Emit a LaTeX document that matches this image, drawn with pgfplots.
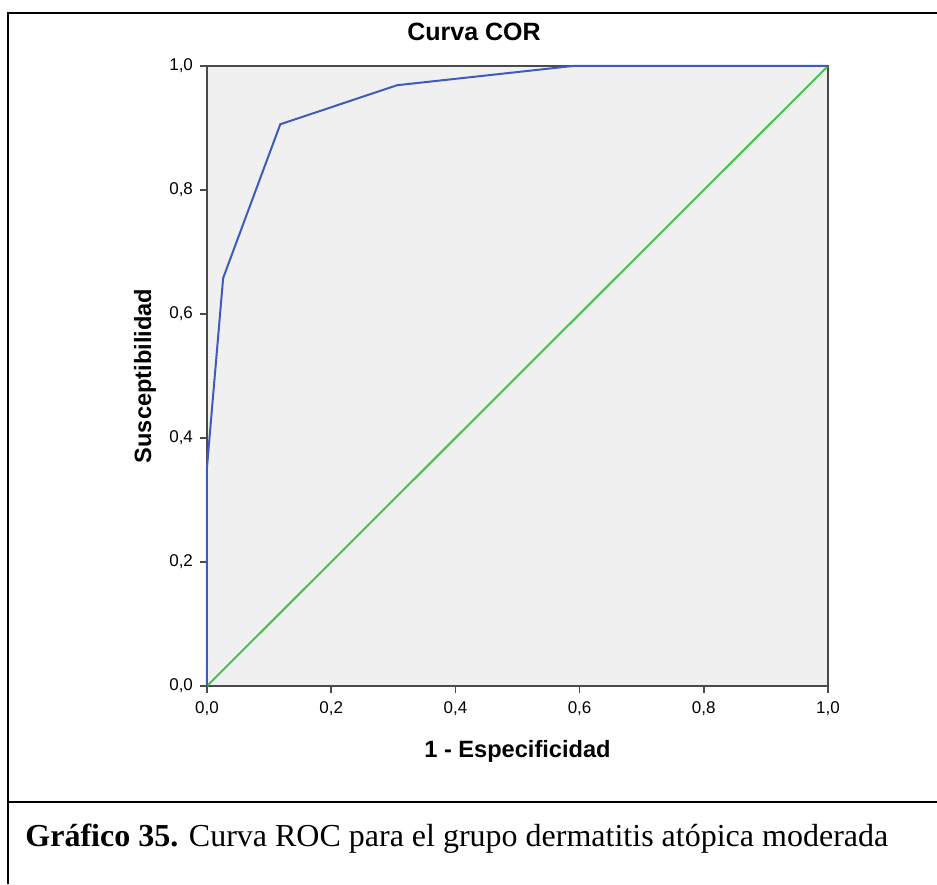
\documentclass[border=0pt]{standalone}
\usepackage{fontspec}
\setmainfont{Liberation Sans}
\newfontfamily\capfont{Liberation Serif}
\usepackage{pgfplots}
\pgfplotsset{compat=1.18}

\definecolor{rocblue}{HTML}{3F5CBA}
\definecolor{refgreen}{HTML}{44C44A}
\definecolor{panel}{HTML}{F0F0F0}
\definecolor{axline}{HTML}{4A4A4A}

\begin{document}
\begin{tikzpicture}
% canvas: 1 px of the reference = 0.5pt, axis box lower left at px (207,686)
\useasboundingbox (-103.5pt,-99pt) rectangle (365pt,343pt);

\begin{axis}[
    at={(0,0)}, anchor=south west,
    width=310.5pt, height=310pt, scale only axis,
    xmin=0, xmax=1, ymin=0, ymax=1,
    axis background/.style={fill=panel},
    axis line style={axline, line width=1pt},
    xtick={0,0.2,0.4,0.6,0.8,1},
    ytick={0,0.2,0.4,0.6,0.8,1},
    xticklabels={{0,0},{0,2},{0,4},{0,6},{0,8},{1,0}},
    yticklabels={{0,0},{0,2},{0,4},{0,6},{0,8},{1,0}},
    tick align=outside,
    major tick length=3.5pt,
    tick style={axline, line width=0.8pt},
    xtick pos=bottom, ytick pos=left,
    ticklabel style={font=\fontsize{8.5}{10}\selectfont},
    xticklabel style={yshift=-1pt},
    title={\textbf{Curva COR}},
    title style={font=\fontsize{12.5}{15}\selectfont, at={(rel axis cs:0.43,1)}, anchor=base, yshift=6.5pt},
    xlabel={\textbf{1 - Especificidad}},
    xlabel style={font=\fontsize{11.8}{14}\selectfont, at={(rel axis cs:0.5,0)}, anchor=base, yshift=-35.5pt},
    ylabel={\textbf{Susceptibilidad}},
    ylabel style={font=\fontsize{11.8}{14}\selectfont, at={(rel axis cs:0,0.5)}, anchor=center, yshift=31pt},
    clip=false,
]
% reference diagonal
\addplot[refgreen, line width=1pt] coordinates {(0,0) (1,1)};
% ROC curve
\addplot[rocblue, line width=1pt] coordinates {
    (0,0) (0,0.353) (0.026,0.658) (0.118,0.906) (0.306,0.969) (0.589,1) (1,1)
};
\end{axis}

% surrounding table frame
\draw[line width=1pt] (-99.5pt,-99pt) -- (-99.5pt,336.5pt) -- (365pt,336.5pt);
\draw[line width=1.2pt] (-99.5pt,-58pt) -- (365pt,-58pt);
\node[anchor=base west, inner sep=0pt, font=\capfont\fontsize{16}{19}\selectfont]
    at (-91pt,-80pt) {\textbf{Gráfico 35.} Curva ROC para el grupo dermatitis atópica moderada};
\end{tikzpicture}
\end{document}
